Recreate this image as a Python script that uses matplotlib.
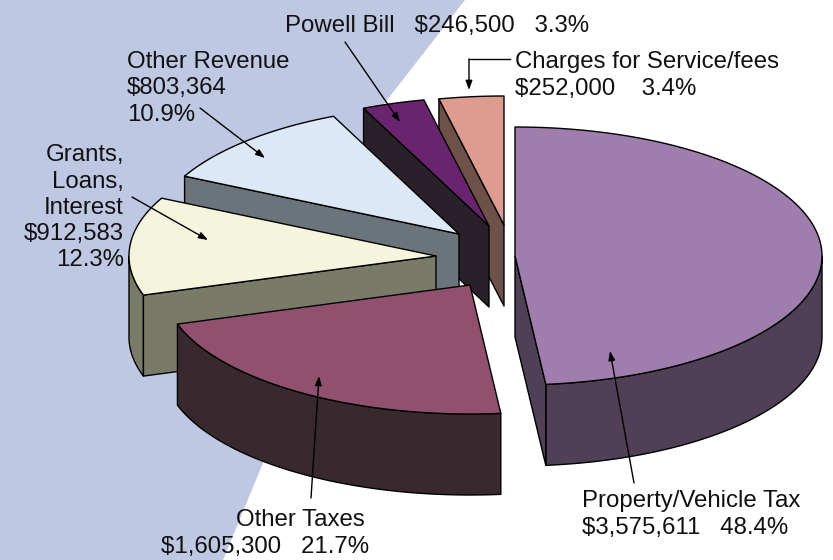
import numpy as np
import matplotlib
matplotlib.use("Agg")
import matplotlib.pyplot as plt
from matplotlib.path import Path
from matplotlib.patches import PathPatch, Polygon

categories = ["Property/Vehicle Tax", "Other Taxes", "Grants, Loans, Interest",
              "Other Revenue", "Powell Bill", "Charges for Service/fees"]
percent = [48.4, 21.7, 12.3, 10.9, 3.3, 3.4]
top_colors = ["#9f7dad", "#92506f", "#f5f4dc", "#dce8f5", "#6a246f", "#dd9c8f"]
side_colors = ["#4f3f57", "#38292f", "#7a7a68", "#6b747b", "#2a2029", "#6e5149"]
apex_x = [515, 470, 436, 459, 489, 504]
apex_y = [256, 285, 256, 234, 226, 225]
draw_order = [5, 4, 3, 2, 0, 1]
RX, RY, DEPTH = 307, 129, 81
LW = 1.0

fig = plt.figure(figsize=(8.33, 5.6), dpi=100)
ax = fig.add_axes([0, 0, 1, 1])
ax.set_xlim(0, 833)
ax.set_ylim(560, 0)
ax.axis("off")
plt.rcParams["font.family"] = ["Liberation Sans", "DejaVu Sans"]

# background swoosh
verts = [(0, 0), (465, 0), (387, 100), (345, 155), (295, 375), (263, 463), (223, 560), (0, 560), (0, 0)]
codes = [Path.MOVETO, Path.LINETO, Path.LINETO, Path.CURVE4, Path.CURVE4, Path.CURVE4,
         Path.LINETO, Path.LINETO, Path.CLOSEPOLY]
ax.add_patch(PathPatch(Path(verts, codes), fc="#bfc8e2", ec="none", zorder=0))

fracs = np.array(percent) / sum(percent) * 360
ends = np.cumsum(fracs)
starts = ends - fracs


def pt(cx, cy, t, dz=0):
    r = np.radians(t)
    return cx + RX * np.sin(r), cy - RY * np.cos(r) + dz


z = 1
for i in draw_order:
    cx, cy = apex_x[i], apex_y[i]
    t0, t1 = starts[i], ends[i]
    kw = dict(fc=side_colors[i], ec="black", lw=LW, joinstyle="round")
    # outer wall, lower half of the ellipse only
    a, b = max(t0, 90), min(t1, 270)
    if b > a:
        ts = np.linspace(a, b, 80)
        upper = [pt(cx, cy, t) for t in ts]
        lower = [pt(cx, cy, t, DEPTH) for t in ts[::-1]]
        ax.add_patch(Polygon(upper + lower, closed=True, zorder=z, **kw))
    z += 1
    # radial walls that face the viewer
    for t, visible in ((t0, np.sin(np.radians(t0)) < -1e-6), (t1, np.sin(np.radians(t1)) > 1e-6)):
        if visible:
            ax.add_patch(Polygon([(cx, cy), pt(cx, cy, t), pt(cx, cy, t, DEPTH), (cx, cy + DEPTH)],
                                 closed=True, zorder=z, **kw))
            z += 1
    ts = np.linspace(t0, t1, 120)
    ax.add_patch(Polygon([(cx, cy)] + [pt(cx, cy, t) for t in ts], closed=True,
                         fc=top_colors[i], ec="black", lw=LW, joinstyle="round", zorder=z))
    z += 1

FS = 17.3
texts = [
    (285, 26, "Powell Bill   $246,500   3.3%", "left"),
    (515, 62, "Charges for Service/fees", "left"),
    (515, 89, "$252,000    3.4%", "left"),
    (127, 62, "Other Revenue", "left"),
    (127, 88, "$803,364", "left"),
    (127, 115, "10.9%", "left"),
    (124, 155, "Grants,", "right"),
    (124, 182, "Loans,", "right"),
    (124, 208, "Interest", "right"),
    (124, 234, "$912,583", "right"),
    (124, 260, "12.3%", "right"),
    (236, 520, "Other Taxes", "left"),
    (161, 547, "$1,605,300   21.7%", "left"),
    (582, 501, "Property/Vehicle Tax", "left"),
    (582, 528, "$3,575,611   48.4%", "left"),
]
for x, y, s, ha in texts:
    ax.text(x, y, s, ha=ha, va="center", fontsize=FS, color="#111111", zorder=50)

arrows = [
    ((345, 42), (400, 122)),
    ((200, 108), (265, 158)),
    ((132, 197), (208, 240)),
    ((311, 498), (319, 376)),
    ((634, 483), (610, 351)),
    ((469, 59), (469, 90)),
]
for start, end in arrows:
    ax.annotate("", xy=end, xytext=start, zorder=60,
                arrowprops=dict(arrowstyle="-|>,head_length=0.55,head_width=0.2", color="black",
                                lw=1.0, shrinkA=0, shrinkB=0))
ax.plot([510, 469], [59, 59], color="black", lw=1.0, zorder=60)

fig.savefig("out.png", dpi=100)
